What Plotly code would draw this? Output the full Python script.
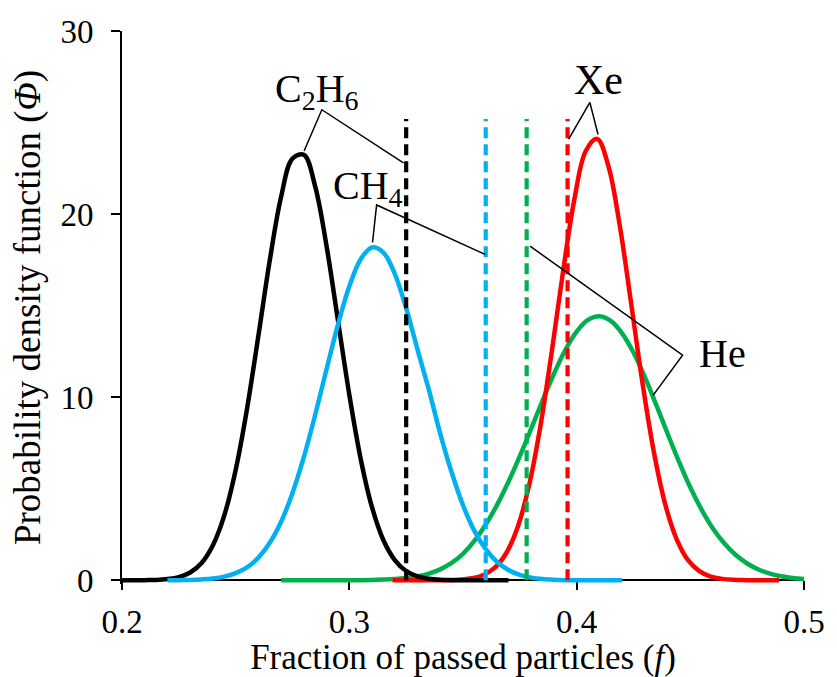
import plotly.graph_objects as go

# Fraction of passed particles (f) and probability density (Phi) for each gas
f_c2h6 = [0.200, 0.205, 0.210, 0.215, 0.220, 0.225, 0.230, 0.235, 0.240, 0.245,
          0.250, 0.255, 0.260, 0.265, 0.270, 0.275, 0.280, 0.285, 0.290, 0.295,
          0.300, 0.305, 0.310, 0.315, 0.320, 0.325, 0.330, 0.335, 0.340, 0.345,
          0.350, 0.355, 0.360, 0.365, 0.370]
pdf_c2h6 = [0.00, 0.00, 0.01, 0.02, 0.07, 0.18, 0.43, 0.95, 1.92, 3.55,
            6.03, 9.37, 13.36, 17.47, 20.95, 23.04, 23.24, 21.50, 18.24, 14.19,
            10.13, 6.63, 3.98, 2.19, 1.11, 0.51, 0.22, 0.09, 0.03, 0.01,
            0.00, 0.00, 0.00, 0.00, 0.00]

f_ch4 = [0.220, 0.225, 0.230, 0.235, 0.240, 0.245, 0.250, 0.255, 0.260, 0.265,
         0.270, 0.275, 0.280, 0.285, 0.290, 0.295, 0.300, 0.305, 0.310, 0.315,
         0.320, 0.325, 0.330, 0.335, 0.340, 0.345, 0.350, 0.355, 0.360, 0.365,
         0.370, 0.375, 0.380, 0.385, 0.390, 0.395, 0.400, 0.405, 0.410, 0.415,
         0.420]
pdf_ch4 = [0.00, 0.01, 0.02, 0.05, 0.10, 0.20, 0.39, 0.71, 1.24, 2.05,
           3.20, 4.77, 6.74, 9.05, 11.54, 13.97, 16.06, 17.54, 18.18, 17.90,
           16.74, 14.86, 12.60, 10.40, 8.00, 5.90, 4.10, 2.70, 1.70, 1.00,
           0.56, 0.30, 0.15, 0.07, 0.03, 0.01, 0.00, 0.00, 0.00, 0.00,
           0.00]

f_he = [0.270, 0.275, 0.280, 0.285, 0.290, 0.295, 0.300, 0.305, 0.310, 0.315,
        0.320, 0.325, 0.330, 0.335, 0.340, 0.345, 0.350, 0.355, 0.360, 0.365,
        0.370, 0.375, 0.380, 0.385, 0.390, 0.395, 0.400, 0.405, 0.410, 0.415,
        0.420, 0.425, 0.430, 0.435, 0.440, 0.445, 0.450, 0.455, 0.460, 0.465,
        0.470, 0.475, 0.480, 0.485, 0.490, 0.495, 0.500]
pdf_he = [0.00, 0.00, 0.00, 0.00, 0.00, 0.00, 0.01, 0.01, 0.02, 0.04,
          0.07, 0.13, 0.22, 0.37, 0.60, 0.95, 1.45, 2.15, 3.05, 4.12,
          5.38, 6.78, 8.28, 9.82, 11.28, 12.58, 13.58, 14.22, 14.42, 14.17,
          13.49, 12.44, 11.10, 9.58, 8.01, 6.48, 5.07, 3.85, 2.82, 2.01,
          1.38, 0.92, 0.59, 0.37, 0.22, 0.13, 0.07]

f_xe = [0.319, 0.324, 0.329, 0.334, 0.339, 0.344, 0.349, 0.354, 0.359, 0.364,
        0.369, 0.374, 0.379, 0.384, 0.389, 0.394, 0.399, 0.404, 0.409, 0.414,
        0.419, 0.424, 0.429, 0.434, 0.439, 0.444, 0.449, 0.454, 0.459, 0.464,
        0.469, 0.474, 0.479, 0.484, 0.489]
pdf_xe = [0.00, 0.00, 0.00, 0.00, 0.00, 0.01, 0.04, 0.11, 0.29, 0.69,
          1.48, 2.89, 5.15, 8.38, 12.45, 16.85, 20.81, 23.45, 24.11, 22.61,
          19.34, 15.09, 10.74, 6.98, 4.13, 2.24, 1.10, 0.50, 0.20, 0.08,
          0.03, 0.01, 0.00, 0.00, 0.00]

# Mean passed fraction of each gas (vertical dashed markers) and their height
gases = ["C2H6", "CH4", "He", "Xe"]
mean_f = {"C2H6": 0.325, "CH4": 0.360, "He": 0.378, "Xe": 0.396}
marker_top = 25.2

colors = {"C2H6": "#000000", "CH4": "#00B0F0", "He": "#00B050", "Xe": "#FF0000"}
series = {"C2H6": (f_c2h6, pdf_c2h6), "CH4": (f_ch4, pdf_ch4),
          "He": (f_he, pdf_he), "Xe": (f_xe, pdf_xe)}

SERIF = "Liberation Serif, Times New Roman, serif"

fig = go.Figure()

# Curves: He and Xe underneath, C2H6 and CH4 on top
for g in ["He", "Xe", "C2H6", "CH4"]:
    fx, fy = series[g]
    fig.add_trace(go.Scatter(x=fx, y=fy, mode="lines", line_shape="spline",
                             line=dict(color=colors[g], width=4.5),
                             hoverinfo="skip", showlegend=False))

# Dashed mean markers
for g in gases:
    fig.add_trace(go.Scatter(x=[mean_f[g], mean_f[g]], y=[0, marker_top], mode="lines",
                             line=dict(color=colors[g], width=4.2, dash="11px,6px"),
                             hoverinfo="skip", showlegend=False))

# Leader lines joining each label to its curve peak and its mean marker
leaders = {
    "C2H6": ([0.2801, 0.2879, 0.3238], [23.45, 25.7, 22.8]),
    "CH4": ([0.3102, 0.3120, 0.3597], [18.45, 20.5, 17.8]),
    "Xe": ([0.3965, 0.4058, 0.4094], [24.1, 26.1, 24.35]),
    "He": ([0.3795, 0.4466, 0.4336], [18.25, 12.3, 10.1]),
}
for g, (lx, ly) in leaders.items():
    fig.add_trace(go.Scatter(x=lx, y=ly, mode="lines",
                             line=dict(color="black", width=1.5),
                             hoverinfo="skip", showlegend=False))

labels = [
    ("C<sub>2</sub>H<sub>6</sub>", 0.2857, 26.7, "center", 40),
    ("CH<sub>4</sub>", 0.3084, 21.4, "center", 40),
    ("Xe", 0.4097, 27.3, "center", 42),
    ("He", 0.4528, 12.4, "left", 40),
]
for text, ax_, ay_, xa, fs in labels:
    fig.add_annotation(x=ax_, y=ay_, text=text, showarrow=False, xanchor=xa,
                       yanchor="middle", font=dict(family=SERIF, size=fs, color="black"))

y_lo = -0.2
fig.update_layout(
    width=837, height=677,
    margin=dict(l=122, r=22, t=31, b=93),
    plot_bgcolor="white", paper_bgcolor="white",
    font=dict(family=SERIF, color="black"),
    showlegend=False,
    xaxis=dict(range=[0.2, 0.5], tickvals=[0.2, 0.3, 0.4, 0.5],
               ticktext=["0.2", "0.3", "0.4", "0.5"],
               showgrid=False, zeroline=False, showline=True, linecolor="black",
               linewidth=2, ticks="outside", ticklen=9, tickwidth=2, tickcolor="black",
               tickfont=dict(family=SERIF, size=33), ticklabelstandoff=3,
               anchor="free", position=(0 - y_lo) / (30 - y_lo),
               layer="below traces",
               title=dict(text="Fraction of passed particles (<i>f</i>)",
                          font=dict(family=SERIF, size=35), standoff=0)),
    yaxis=dict(range=[y_lo, 30], tickvals=[0, 10, 20, 30],
               showgrid=False, zeroline=False, showline=True, linecolor="black",
               linewidth=2, ticks="outside", ticklen=9, tickwidth=2, tickcolor="black",
               tickfont=dict(family=SERIF, size=33), ticklabelstandoff=11,
               layer="below traces",
               title=dict(text="Probability density function (<i>Φ</i>)",
                          font=dict(family=SERIF, size=37), standoff=8)),
)

fig.write_html("out.html")
